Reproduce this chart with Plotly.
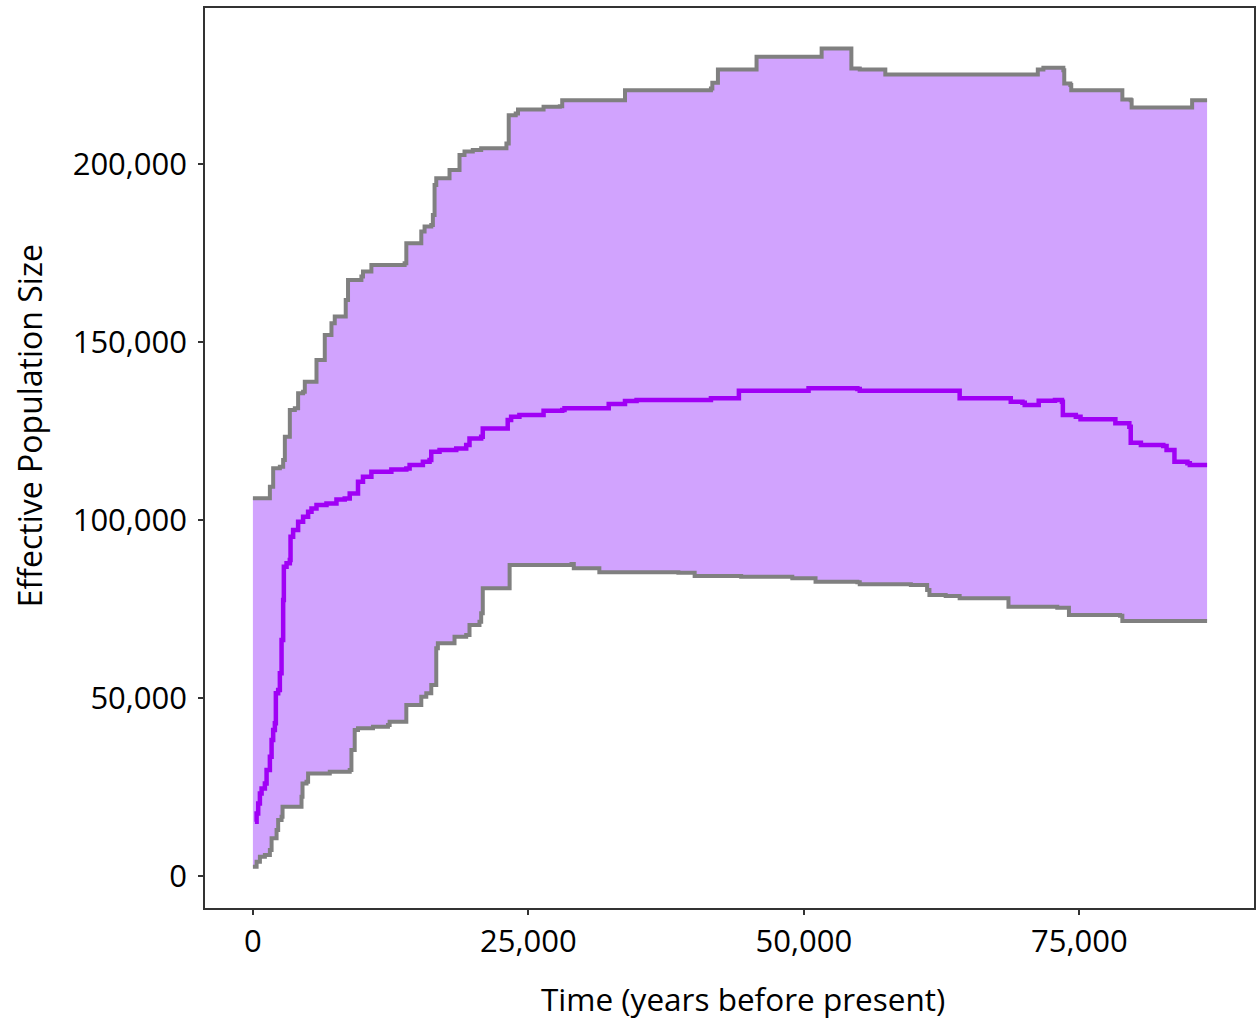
import plotly.graph_objects as go

# ---- data (years before present, effective population size) ----
upper_x = [0, 933, 1540, 1839, 2446, 2745, 2899, 3351, 3351, 3804, 4103, 4556, 4710, 5770, 5770,
           6522, 6522, 6975, 7129, 7428, 8333, 8424, 8632, 9239, 9846, 9991, 10598, 10752, 12409,
           13768, 13922, 15281, 15281, 15580, 16187, 16332, 16486, 16640, 17691, 17844, 18750,
           18750, 19203, 19955, 20716, 22373, 23007, 23216, 23850, 24058, 26377, 26377, 27854,
           28071, 33678, 33768, 40517, 41568, 41694, 42202, 42202, 44312, 45707, 45707, 51613,
           51613, 54222, 54312, 55073, 57310, 57392, 71105, 71232, 71739, 72998, 73551, 73632,
           74185, 74266, 78823, 78904, 79665, 79747, 85145, 85236, 86594]
upper_y = [106100, 106100, 109355, 114523, 114973, 116854, 123399, 123877, 130899, 131377, 135591,
           136040, 138850, 138850, 144944, 144944, 151967, 151967, 155253, 157135, 157135, 161826,
           167444, 167444, 168371, 169775, 169775, 171657, 171657, 172135, 177753, 177753, 181011,
           182416, 182893, 185702, 194129, 196012, 196012, 198343, 198343, 202557, 203484, 203962,
           204439, 204439, 205779, 213729, 214206, 215330, 215330, 216060, 216257, 217942, 217942,
           220751, 220751, 221229, 222802, 223083, 226566, 226566, 226847, 230105, 230105, 232465,
           232465, 226847, 226566, 226566, 225162, 225162, 226566, 227016, 227016, 226370, 222634,
           222157, 220751, 220751, 218139, 217942, 215891, 215891, 217942, 217942]

lower_x = [0, 335, 634, 1087, 1540, 1694, 2147, 2292, 2600, 2690, 4103, 4411, 4502, 4864, 5009,
           6975, 8786, 8940, 9239, 9538, 10897, 12256, 12409, 13922, 13922, 15281, 15281, 15734,
           16187, 16486, 16640, 16785, 17691, 18297, 18297, 19357, 19656, 20562, 20716, 20861,
           23279, 23297, 28913, 29121, 31440, 38614, 40090, 44312, 48950, 51060, 54855, 55073,
           59711, 61187, 61396, 62872, 64140, 68361, 68569, 72998, 74058, 78696, 78904, 86594]
lower_y = [2600, 3989, 5421, 5899, 7303, 10590, 12921, 15730, 16629, 19438, 19438, 22247, 26011,
           26461, 28820, 29270, 29775, 35393, 41011, 41489, 41938, 42416, 43343, 43343, 48034,
           48034, 50366, 51321, 53652, 53652, 63961, 65366, 65366, 66292, 67219, 67697, 70506,
           71433, 73793, 80815, 80815, 87360, 87641, 86433, 85310, 85197, 84270, 84073, 83624,
           82669, 82500, 81939, 81742, 80337, 78933, 78652, 78006, 78006, 75646, 75365, 73315,
           73118, 71630, 71630]

median_x = [181, 335, 480, 634, 788, 1087, 1241, 1540, 1694, 1839, 1993, 2083, 2292, 2446, 2600,
            2745, 2808, 3053, 3351, 3415, 3650, 4103, 4556, 5009, 5317, 5770, 6676, 7582, 8333,
            8786, 9538, 9991, 10752, 12256, 12564, 13922, 14221, 15426, 16033, 16187, 16939,
            18451, 19357, 19656, 20716, 20861, 22827, 23125, 23433, 24185, 26377, 26377, 28071,
            28279, 32292, 32292, 33551, 33768, 34819, 40090, 41568, 44104, 44104, 50010, 50426,
            53171, 54855, 55073, 61396, 64140, 64140, 68361, 68778, 69838, 70046, 71105, 71313,
            72790, 73424, 73505, 74683, 75108, 78062, 78271, 79539, 79665, 80589, 82618, 82917,
            83542, 83633, 84811, 85028, 86594]
median_y = [15253, 17584, 20393, 23202, 24606, 26011, 29775, 33511, 38202, 41011, 42893, 51321,
            52247, 56938, 66292, 77528, 86883, 87837, 88764, 95309, 97191, 99523, 100927, 102332,
            103261, 104188, 104666, 105789, 106070, 107475, 110733, 112137, 113542, 113542, 114216,
            114497, 115424, 116352, 116829, 119161, 119638, 120116, 121043, 122925, 123374, 125734,
            125734, 128090, 129017, 129495, 129692, 130703, 130899, 131377, 131377, 132585, 132585,
            133428, 133708, 133708, 134186, 134467, 136320, 136320, 136995, 136995, 136798, 136320,
            136320, 136040, 134186, 134186, 133231, 132950, 132304, 132304, 133512, 133708, 133231,
            129495, 129017, 128287, 128287, 127163, 126208, 121713, 121067, 120786, 119663, 119663,
            116376, 115927, 115450, 115450]

x_ticks = [0, 25000, 50000, 75000]
x_tick_labels = ["0", "25,000", "50,000", "75,000"]
y_ticks = [0, 50000, 100000, 150000, 200000]
y_tick_labels = ["0", "50,000", "100,000", "150,000", "200,000"]
x_title = "Time (years before present)"
y_title = "Effective Population Size"

FILL = "#D1A3FE"
GRAY = "#808080"
PURPLE = "#A000F5"
FONT = "Open Sans"

fig = go.Figure()
# shaded band
fig.add_trace(go.Scatter(x=lower_x, y=lower_y, mode="lines", line=dict(width=0, shape="hv"),
                         hoverinfo="skip", showlegend=False))
fig.add_trace(go.Scatter(x=upper_x, y=upper_y, mode="lines", line=dict(width=0, shape="hv"),
                         fill="tonexty", fillcolor=FILL, hoverinfo="skip", showlegend=False))
# bounds
fig.add_trace(go.Scatter(x=lower_x, y=lower_y, mode="lines",
                         line=dict(color=GRAY, width=4, shape="hv"), showlegend=False))
fig.add_trace(go.Scatter(x=upper_x, y=upper_y, mode="lines",
                         line=dict(color=GRAY, width=4, shape="hv"), showlegend=False))
# median
fig.add_trace(go.Scatter(x=median_x, y=median_y, mode="lines",
                         line=dict(color=PURPLE, width=4.5, shape="hv"), showlegend=False))

axis_common = dict(showgrid=False, zeroline=False, showline=True, mirror=True,
                   linecolor="#333333", linewidth=1.5, ticks="outside", ticklen=5,
                   tickwidth=1.5, tickcolor="#333333",
                   tickfont=dict(family=FONT, size=31, color="black"))

fig.update_layout(
    width=1257, height=1021,
    margin=dict(l=205, r=1, t=8, b=113),
    paper_bgcolor="white", plot_bgcolor="white",
    xaxis=dict(range=[-4348, 90852], tickvals=x_ticks, ticktext=x_tick_labels, **axis_common),
    yaxis=dict(range=[-8989, 243821], tickvals=y_ticks, ticktext=y_tick_labels,
               ticklabelstandoff=5, **axis_common),
    annotations=[
        dict(text=x_title, xref="paper", yref="paper", x=0.513, y=-0.1,
             xanchor="center", yanchor="middle", showarrow=False,
             font=dict(family=FONT, size=31.5, color="black")),
        dict(text=y_title, xref="paper", yref="paper", x=-0.1665, y=0.5356,
             xanchor="center", yanchor="middle", textangle=-90, showarrow=False,
             font=dict(family=FONT, size=32, color="black")),
    ],
)

fig.write_html("out.html", config={"displayModeBar": False},
               post_script="document.body.style.margin='0px';")
